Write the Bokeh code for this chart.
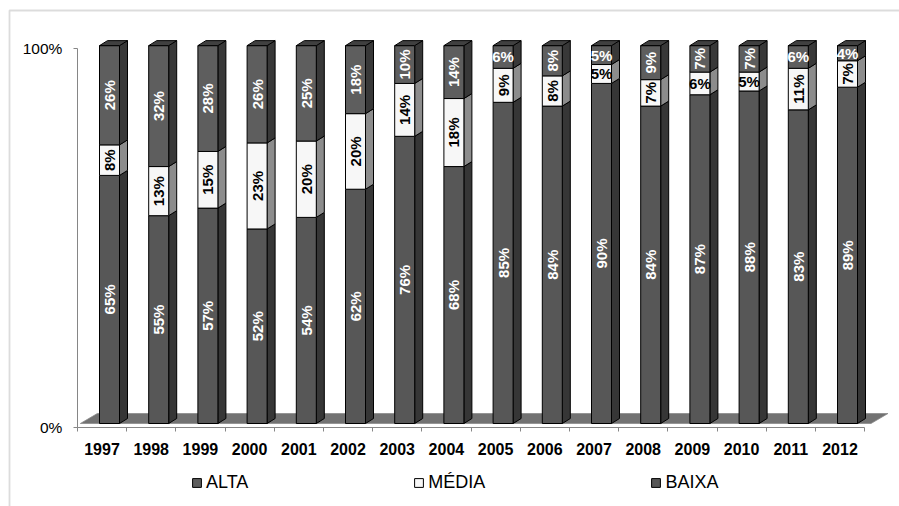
from bokeh.plotting import figure
from bokeh.models import (Range1d, FixedTicker, Legend, LegendItem, BoxAnnotation,
                          ColumnDataSource)
from bokeh.core.properties import value
from bokeh.embed import file_html
from bokeh.resources import INLINE

# Share of each class per year (%)
years = ["1997", "1998", "1999", "2000", "2001", "2002", "2003", "2004",
         "2005", "2006", "2007", "2008", "2009", "2010", "2011", "2012"]
baixa = [65, 55, 57, 52, 54, 62, 76, 68, 85, 84, 90, 84, 87, 88, 83, 89]
media = [8, 13, 15, 23, 20, 20, 14, 18, 9, 8, 5, 7, 6, 5, 11, 7]
alta = [26, 32, 28, 26, 25, 18, 10, 14, 6, 8, 5, 9, 7, 7, 6, 4]

series = [("BAIXA", baixa), ("MÉDIA", media), ("ALTA", alta)]
front_color = {"BAIXA": "#575757", "MÉDIA": "#f7f7f7", "ALTA": "#5e5e5e"}
side_color = {"BAIXA": "#363636", "MÉDIA": "#8c8c8c", "ALTA": "#383838"}
label_color = {"BAIXA": "white", "MÉDIA": "black", "ALTA": "white"}
top_color = "#404040"

FONT = value("Liberation Sans")
W, H = 899, 506
PX_X = 49.2          # pixels per category
PX_Y = 3.79          # pixels per percent
CX0 = 101.5          # pixel centre of the first category
ZERO_Y = 427         # pixel row of the 0% baseline
x0 = -CX0 / PX_X
y0 = -(H - ZERO_Y) / PX_Y

p = figure(width=W, height=H, output_backend="svg", toolbar_location=None,
           x_range=Range1d(x0, x0 + W / PX_X),
           y_range=Range1d(y0, y0 + H / PX_Y),
           min_border=0)
p.outline_line_color = None
p.xgrid.visible = False
p.ygrid.visible = False
p.background_fill_color = "white"
p.border_fill_color = "white"

# 3D geometry (in data units)
off = 7.5 / PX_X          # front face centre offset from category centre
hw = 10 / PX_X            # half width of front face
dx = 8 / PX_X             # depth shift, x
dy = 5 / PX_Y             # depth shift, y
base = 4 / PX_Y           # bar bottom above floor front
span = 99.7

n = len(years)

# floor slab
fdy = 10 / PX_Y
fdx = 17 / PX_X
p.patch([-0.44, n - 0.37, n - 0.37 + fdx, -0.44 + fdx],
        [base, base, base + fdy, base + fdy],
        fill_color="#727272", line_color="#8a8a8a", line_width=0.8)

totals = [baixa[i] + media[i] + alta[i] for i in range(n)]
cum = [0.0] * n
front_renderers = {}
lab_x, lab_y, lab_t, lab_a, lab_c = [], [], [], [], []
top_xs, top_ys = [], []
for name, vals in series:
    lefts, rights, bottoms, tops = [], [], [], []
    sxs, sys = [], []
    for i in range(n):
        y_lo = base + span * cum[i] / totals[i]
        cum[i] += vals[i]
        y_hi = base + span * cum[i] / totals[i]
        l, r = i + off - hw, i + off + hw
        lefts.append(l); rights.append(r); bottoms.append(y_lo); tops.append(y_hi)
        sxs.append([r, r + dx, r + dx, r])
        sys.append([y_lo, y_lo + dy, y_hi + dy, y_hi])
        lab_x.append(i + off)
        lab_y.append((y_lo + y_hi) / 2)
        lab_t.append(f"{vals[i]}%")
        lab_a.append(0.0 if vals[i] <= 6 else 1.5708)
        lab_c.append(label_color[name])
        if name == "ALTA":
            top_xs.append([l, l + dx, r + dx, r])
            top_ys.append([y_hi, y_hi + dy, y_hi + dy, y_hi])
    p.patches(sxs, sys, fill_color=side_color[name], line_color="black", line_width=1)
    front_renderers[name] = p.quad(left=lefts, right=rights, bottom=bottoms, top=tops,
                                   fill_color=front_color[name], line_color="black",
                                   line_width=1)

p.patches(top_xs, top_ys, fill_color=top_color, line_color="black", line_width=1)

labels = ColumnDataSource(dict(x=lab_x, y=lab_y, text=lab_t, angle=lab_a, color=lab_c))
p.text(x="x", y="y", text="text", angle="angle", text_color="color", source=labels,
       text_font=FONT, text_font_style="bold", text_font_size="15px",
       text_align="center", text_baseline="middle")

# value axis, pinned to the left end of the category axis
p.yaxis.fixed_location = -0.5
p.yaxis.ticker = FixedTicker(ticks=[0, 100])
p.yaxis.major_label_overrides = {0: "0%", 100: "100%"}
p.yaxis.bounds = (0, 100)
p.yaxis.axis_line_color = "#868686"
p.yaxis.major_tick_line_color = "#868686"
p.yaxis.major_tick_out = 4
p.yaxis.major_tick_in = 0
p.yaxis.minor_tick_line_color = None
p.yaxis.major_label_standoff = 11
p.yaxis.major_label_text_font = "Liberation Sans"
p.yaxis.major_label_text_font_size = "15.5px"
p.yaxis.major_label_text_color = "black"

# category axis, pinned to the 0% baseline
p.xaxis.fixed_location = 0
p.xaxis.ticker = FixedTicker(ticks=list(range(n)),
                             minor_ticks=[k - 0.5 for k in range(n + 1)])
p.xaxis.major_label_overrides = {i: y for i, y in enumerate(years)}
p.xaxis.bounds = (-0.5, n - 0.5)
p.xaxis.axis_line_color = "#868686"
p.xaxis.major_tick_line_color = None
p.xaxis.major_tick_out = 0
p.xaxis.major_tick_in = 0
p.xaxis.minor_tick_line_color = "#868686"
p.xaxis.minor_tick_out = 4
p.xaxis.minor_tick_in = 0
p.xaxis.major_label_standoff = 11
p.xaxis.major_label_text_font = "Liberation Sans"
p.xaxis.major_label_text_font_style = "bold"
p.xaxis.major_label_text_font_size = "16px"
p.xaxis.major_label_text_color = "black"

legend = Legend(items=[LegendItem(label="ALTA", renderers=[front_renderers["ALTA"]]),
                       LegendItem(label="MÉDIA", renderers=[front_renderers["MÉDIA"]]),
                       LegendItem(label="BAIXA", renderers=[front_renderers["BAIXA"]])],
                orientation="horizontal", location=(191, 13), spacing=165,
                glyph_width=11, glyph_height=11, label_standoff=4, padding=0, margin=0,
                border_line_color=None, background_fill_alpha=0,
                label_text_font="Liberation Sans", label_text_font_size="18px",
                label_text_color="black")
p.add_layout(legend)

# chart area border (top and left edges; the rest runs past the page)
p.add_layout(BoxAnnotation(left=9, right=960, top=10, bottom=560,
                           left_units="canvas", right_units="canvas",
                           top_units="canvas", bottom_units="canvas",
                           fill_alpha=0, line_color="#8c8c8c", line_width=1.8))

open("out.html", "w").write(file_html(p, INLINE))
